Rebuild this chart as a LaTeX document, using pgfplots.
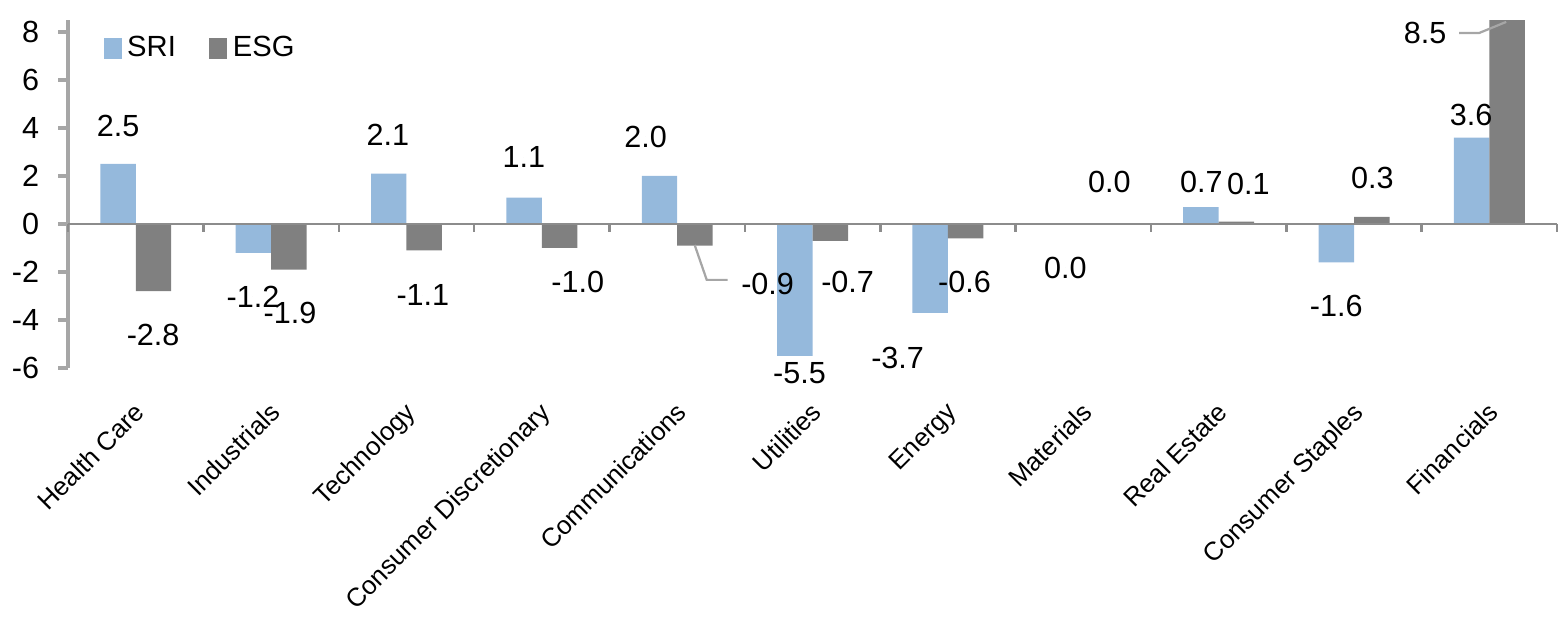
\documentclass[border=0pt]{standalone}
\usepackage{fontspec}
\setmainfont{Liberation Sans}
\usepackage{pgfplots}
\usepackage{pgfplotstable}
\pgfplotsset{compat=1.18}
\definecolor{sri}{HTML}{95B9DC}
\definecolor{esg}{HTML}{808080}
\definecolor{axgray}{HTML}{A6A6A6}
\definecolor{zgray}{HTML}{8C8C8C}

\pgfplotstableread{
x sri esg
0 2.5 -2.8
1 -1.2 -1.9
2 2.1 -1.1
3 1.1 -1.0
4 2.0 -0.9
5 -5.5 -0.7
6 -3.7 -0.6
7 0.0 0.0
8 0.7 0.1
9 -1.6 0.3
10 3.6 8.5
}\data

\pgfplotstableread{
x y lab
-0.131 4.10 2.5
0.128 -4.62 -2.8
0.866 -3.04 -1.2
1.139 -3.71 -1.9
1.863 3.70 2.1
2.121 -2.96 -1.1
2.867 2.79 1.1
3.265 -2.42 -1.0
3.767 3.63 2.0
4.668 -2.50 -0.9
4.904 -6.21 -5.5
5.259 -2.42 -0.7
5.628 -5.60 -3.7
6.122 -2.42 -0.6
6.868 -1.83 0.0
7.193 1.75 0.0
7.872 1.75 0.7
8.219 1.67 0.1
8.869 -3.40 -1.6
9.135 1.92 0.3
9.865 4.54 3.6
9.526 7.96 8.5
}\labels

\begin{document}
\begin{tikzpicture}
\useasboundingbox (-24.5pt,-91pt) rectangle (536.5pt,132.4pt);
\begin{axis}[
  at={(0pt,0pt)}, anchor=south west,
  scale only axis, width=535.8pt, height=125.2pt,
  xmin=-0.5, xmax=10.5, ymin=-6, ymax=8.5,
  axis x line*=bottom, axis y line*=left,
  x axis line style={draw=none},
  y axis line style={axgray, line width=1.3pt},
  xtick={0,...,10},
  xticklabels={Health Care, Industrials, Technology, Consumer Discretionary, Communications, Utilities, Energy, Materials, Real Estate, Consumer Staples, Financials},
  x tick style={draw=none},
  x tick label style={rotate=45, anchor=north east, font=\fontsize{9.3}{11}\selectfont, inner sep=0pt, xshift=-1.5pt},
  xticklabel shift=7pt,
  ytick={-6,-4,...,8},
  y tick style={axgray, line width=1.2pt},
  tick align=outside, major tick length=3.6pt,
  y tick label style={font=\fontsize{11}{13}\selectfont, xshift=-3.3pt},
  /pgf/number format/assume math mode=true,
  clip=false,
  legend style={at={(0.0235,0.918)}, anchor=west, draw=none, fill=none, inner sep=0pt,
    font=\fontsize{10.5}{12}\selectfont, legend columns=2,
    /tikz/every even column/.append style={column sep=10pt}},
  legend image code/.code={\fill[#1] (0pt,-3.7pt) rectangle (6.5pt,3.7pt);},
]
\addplot[ybar, bar width=0.262, bar shift=-0.131, fill=sri, draw=none] table[x=x, y=sri] {\data};
\addplot[ybar, bar width=0.262, bar shift=0.131, fill=esg, draw=none] table[x=x, y=esg] {\data};
\addplot[only marks, mark=*, mark size=0pt, mark options={draw=none, fill=none},
  nodes near coords, point meta=explicit symbolic,
  every node near coord/.append style={anchor=center, inner sep=0pt, font=\fontsize{11}{13}\selectfont, text=black}]
  table[x=x, y=y, meta=lab] {\labels};
\legend{SRI, ESG}
\draw[zgray, line width=0.9pt] (axis cs:-0.5,0) -- (axis cs:10.5,0);
\pgfplotsinvokeforeach{-0.5,0.5,1.5,2.5,3.5,4.5,5.5,6.5,7.5,8.5,9.5,10.5}{
  \draw[zgray, line width=0.9pt] (axis cs:#1,0) -- ([yshift=-3pt]axis cs:#1,0);
}
\draw[axgray, line width=0.8pt] (axis cs:4.129,-0.875) -- (axis cs:4.218,-2.33) -- (axis cs:4.373,-2.33);
\draw[axgray, line width=0.8pt] (axis cs:9.777,7.96) -- (axis cs:9.925,7.96) -- (axis cs:10.124,8.42);
\end{axis}
\end{tikzpicture}
\end{document}
